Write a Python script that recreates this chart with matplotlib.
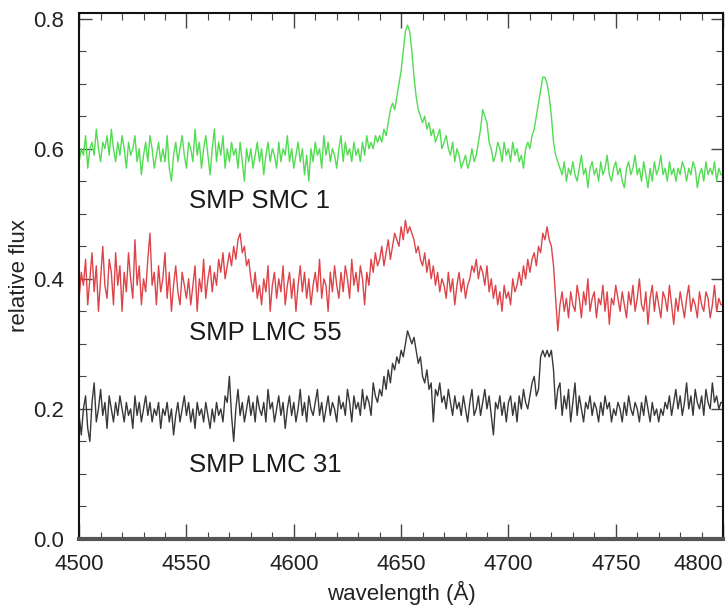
import numpy as np
import matplotlib
matplotlib.use("Agg")
import matplotlib.pyplot as plt
from matplotlib.ticker import MultipleLocator, FormatStrFormatter

plt.rcParams['font.family'] = ['Liberation Sans', 'DejaVu Sans']

# Wavelength grid (Angstrom), 1 A sampling from 4500 to 4800
wave_start, wave_step = 4500, 1

smc1 = [
    .58, .60, .59, .62, .57, .60, .61, .59, .63, .60,  # 4500
    .58, .61, .60, .62, .59, .63, .60, .58, .61, .59,
    .62, .60, .57, .61, .59, .60, .62, .58, .60, .56,
    .59, .61, .58, .62, .60, .57, .59, .61, .58, .60,
    .58, .62, .57, .55, .59, .61, .58, .60, .62, .59,
    .57, .61, .60, .58, .63, .59, .61, .57, .60, .62,  # 4550
    .59, .56, .60, .63, .58, .61, .59, .62, .57, .60,
    .58, .61, .59, .60, .57, .61, .58, .55, .60, .58,
    .60, .57, .59, .61, .58, .60, .56, .59, .61, .58,
    .60, .59, .57, .61, .58, .60, .59, .62, .58, .60,
    .57, .59, .61, .58, .60, .56, .59, .55, .60, .58,  # 4600
    .61, .59, .60, .57, .62, .59, .61, .58, .60, .59,
    .57, .60, .62, .58, .61, .59, .60, .58, .61, .59,
    .60, .58, .61, .59, .62, .60, .61, .60, .62, .61,
    .62, .61, .63, .62, .64, .66, .67, .66, .68, .70,
    .72, .75, .78, .79, .78, .75, .71, .68, .66, .65,  # 4650
    .64, .65, .63, .64, .62, .63, .61, .62, .63, .60,
    .61, .62, .60, .59, .61, .58, .60, .59, .57, .58,
    .59, .57, .58, .60, .58, .59, .61, .63, .66, .65,
    .64, .61, .60, .58, .59, .61, .60, .58, .61, .59,
    .60, .58, .61, .59, .60, .58, .59, .57, .60, .61,  # 4700
    .60, .62, .63, .65, .67, .69, .71, .71, .70, .68,
    .65, .61, .59, .58, .57, .56, .58, .55, .57, .56,
    .58, .56, .55, .57, .59, .56, .57, .54, .57, .58,
    .56, .57, .55, .58, .56, .57, .59, .56, .55, .57,
    .58, .56, .57, .55, .54, .57, .58, .56, .57, .59,  # 4750
    .56, .57, .55, .58, .56, .54, .57, .55, .58, .56,
    .57, .59, .56, .57, .55, .58, .56, .57, .55, .57,
    .56, .58, .57, .55, .57, .56, .58, .57, .54, .56,
    .57, .55, .58, .56, .57, .56, .58, .55, .57, .56,
    .56,                                                # 4800
]

lmc55 = [
    .37, .41, .39, .43, .36, .40, .44, .38, .42, .35,  # 4500
    .40, .45, .39, .37, .43, .41, .36, .44, .39, .42,
    .35, .41, .38, .44, .40, .37, .46, .39, .42, .36,
    .40, .38, .43, .47, .39, .41, .36, .42, .38, .40,
    .44, .37, .41, .35, .39, .42, .38, .36, .41, .39,
    .37, .40, .36, .39, .42, .35, .40, .38, .43, .37,  # 4550
    .40, .42, .38, .41, .39, .43, .41, .44, .40, .42,
    .44, .42, .45, .43, .46, .47, .44, .45, .42, .43,
    .40, .38, .41, .37, .39, .36, .40, .38, .42, .35,
    .39, .41, .37, .40, .38, .42, .36, .39, .41, .37,
    .40, .35, .39, .42, .38, .41, .37, .40, .36, .39,  # 4600
    .41, .38, .43, .37, .40, .39, .35, .41, .38, .42,
    .39, .37, .41, .38, .42, .40, .37, .43, .39, .41,
    .38, .42, .40, .36, .41, .39, .43, .41, .44, .42,
    .43, .45, .42, .44, .46, .43, .45, .47, .46, .45,
    .48, .46, .49, .47, .48, .47, .46, .44, .45, .43,  # 4650
    .42, .44, .41, .43, .40, .42, .39, .41, .38, .40,
    .39, .37, .41, .38, .40, .36, .39, .41, .38, .40,
    .37, .39, .40, .42, .41, .43, .40, .42, .41, .39,
    .42, .38, .40, .37, .39, .36, .38, .35, .39, .37,
    .38, .36, .40, .38, .39, .41, .39, .42, .40, .43,  # 4700
    .41, .43, .44, .42, .45, .44, .47, .46, .48, .46,
    .45, .42, .37, .32, .36, .38, .35, .37, .34, .38,
    .36, .35, .39, .37, .34, .38, .36, .40, .35, .37,
    .38, .34, .37, .36, .39, .35, .38, .33, .37, .36,
    .39, .37, .35, .38, .36, .34, .38, .36, .39, .35,  # 4750
    .37, .40, .36, .35, .38, .33, .37, .39, .35, .38,
    .36, .34, .38, .37, .35, .39, .36, .33, .37, .35,
    .38, .36, .34, .37, .39, .35, .37, .36, .34, .38,
    .36, .35, .38, .37, .34, .36, .39, .35, .37, .36,
    .36,                                                # 4800
]

lmc31 = [
    .19, .16, .20, .22, .17, .15, .21, .24, .18, .20,  # 4500
    .23, .19, .21, .17, .22, .20, .18, .21, .19, .22,
    .20, .18, .21, .19, .20, .17, .22, .19, .21, .18,
    .20, .22, .19, .21, .18, .20, .19, .21, .17, .20,
    .19, .21, .18, .20, .16, .19, .21, .18, .20, .22,
    .19, .21, .18, .20, .17, .21, .19, .20, .18, .21,  # 4550
    .19, .17, .20, .18, .21, .19, .20, .18, .22, .21,
    .25, .19, .15, .20, .23, .19, .21, .18, .20, .22,
    .19, .21, .18, .22, .20, .19, .21, .18, .23, .20,
    .21, .18, .20, .22, .19, .21, .17, .20, .22, .19,
    .21, .18, .20, .23, .19, .21, .18, .22, .20, .19,  # 4600
    .21, .23, .19, .21, .18, .20, .22, .19, .21, .20,
    .18, .22, .20, .21, .19, .23, .21, .18, .22, .20,
    .21, .19, .23, .20, .22, .21, .19, .24, .22, .21,
    .23, .22, .25, .23, .26, .24, .27, .26, .28, .27,
    .29, .28, .30, .32, .31, .30, .31, .29, .27, .28,  # 4650
    .25, .24, .26, .23, .24, .18, .23, .22, .24, .21,
    .22, .20, .23, .21, .19, .22, .20, .21, .19, .22,
    .20, .18, .21, .23, .19, .20, .22, .19, .21, .23,
    .20, .22, .19, .16, .21, .20, .22, .19, .21, .18,
    .21, .22, .19, .21, .18, .22, .20, .23, .21, .20,  # 4700
    .22, .24, .25, .22, .23, .28, .29, .28, .29, .28,
    .29, .26, .20, .23, .24, .19, .22, .20, .23, .18,
    .21, .24, .19, .22, .20, .18, .21, .20, .22, .19,
    .21, .20, .18, .21, .19, .22, .20, .21, .18, .20,
    .19, .21, .20, .18, .21, .19, .22, .20, .19, .21,  # 4750
    .20, .18, .21, .19, .22, .20, .18, .21, .19, .20,
    .18, .20, .19, .21, .20, .22, .19, .21, .23, .20,
    .22, .19, .21, .24, .20, .22, .19, .23, .21, .20,
    .22, .19, .23, .21, .20, .24, .21, .22, .20, .21,
    .21,                                                # 4800
]

names = ["SMP SMC 1", "SMP LMC 55", "SMP LMC 31"]
label_y = [0.52, 0.317, 0.114]
colors = ["#52dc52", "#dd4449", "#383838"]

wave = wave_start + wave_step * np.arange(len(smc1))

fig = plt.figure(figsize=(7.26, 6.07), dpi=100)
ax = fig.add_axes([0.109, 0.112, 0.887, 0.867])

for flux, c in zip([smc1, lmc55, lmc31], colors):
    ax.plot(wave, flux, color=c, lw=1.0)

for name, yy in zip(names, label_y):
    ax.text(4551, yy, name, fontsize=18.5, color="#1a1a1a", va="center", ha="left")

ax.set_xlim(4500, 4800)
ax.set_ylim(0.0, 0.809)
ax.xaxis.set_major_locator(MultipleLocator(50))
ax.xaxis.set_minor_locator(MultipleLocator(10))
ax.yaxis.set_major_locator(MultipleLocator(0.2))
ax.yaxis.set_minor_locator(MultipleLocator(0.05))
ax.yaxis.set_major_formatter(FormatStrFormatter("%.1f"))

ax.tick_params(axis="both", which="both", direction="in", top=True, right=True,
               labelsize=16, labelcolor="#222222", color="#444444")
ax.tick_params(axis="x", which="major", length=11, width=1, pad=11)
ax.tick_params(axis="x", which="minor", length=5, width=0.8)
ax.tick_params(axis="y", which="major", length=9, width=1, pad=11)
ax.tick_params(axis="y", which="minor", length=5, width=0.8)

# keep the last x label inside the figure
fig.canvas.draw()
for lab in ax.get_xticklabels():
    if lab.get_text() == "4800":
        lab.set_horizontalalignment("right")

for side in ["left", "top", "right"]:
    ax.spines[side].set_linewidth(1.5)
    ax.spines[side].set_color("#111111")
ax.spines["bottom"].set_linewidth(3)
ax.spines["bottom"].set_color("#555555")

ax.set_xlabel("wavelength (Å)", fontsize=16, color="#222222", labelpad=4)
ax.set_ylabel("relative flux", fontsize=16, color="#222222", labelpad=2)

fig.savefig("out.png", dpi=100)
